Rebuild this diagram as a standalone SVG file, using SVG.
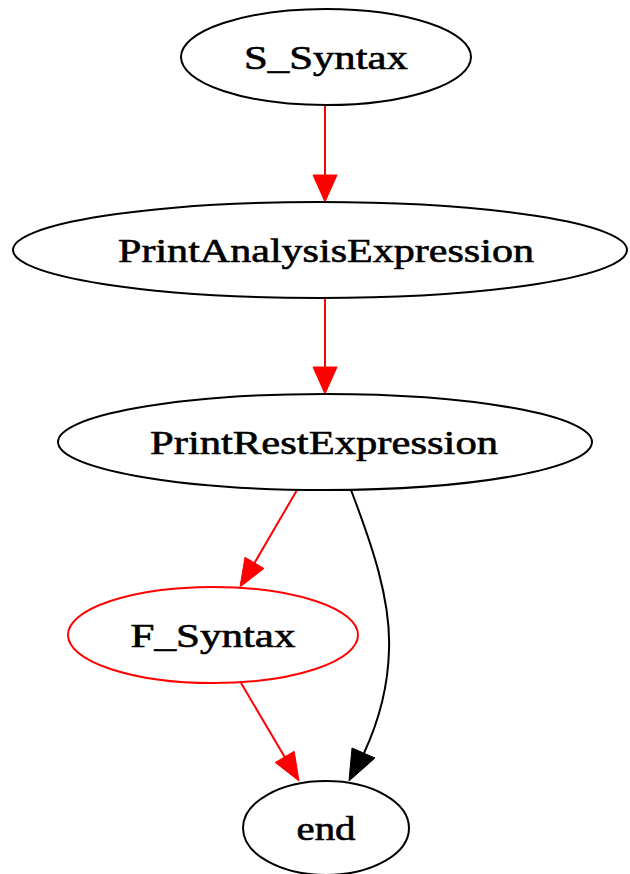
<svg xmlns="http://www.w3.org/2000/svg" width="630" height="874" viewBox="0 0 630 874">
  <style>
    .node ellipse { fill: #ffffff; stroke: #000000; stroke-width: 2; }
    .node.red ellipse { stroke: #ff0000; }
    .node text { font-family: "Liberation Serif", "Times New Roman", serif; font-size: 33px; fill: #000000; stroke: #000000; stroke-width: 0.6; text-anchor: middle; }
    .edge path { fill: none; stroke-width: 2; }
    .edge.red path { stroke: #ff0000; }
    .edge.red polygon { fill: #ff0000; stroke: #ff0000; }
    .edge.black path { stroke: #000000; }
    .edge.black polygon { fill: #000000; stroke: #000000; }
  </style>
  <rect x="0" y="0" width="630" height="874" fill="#ffffff"/>

  <g id="connectors">
    <g class="edge red" id="e_s_pae">
      <path d="M325,106 L325,175"/>
      <polygon points="313,175 337,175 325,202"/>
    </g>
    <g class="edge red" id="e_pae_pre">
      <path d="M325,298 L325,367"/>
      <polygon points="313,367 337,367 325,394"/>
    </g>
    <g class="edge red" id="e_pre_f">
      <path d="M297,490 L254.5,563"/>
      <polygon points="264,568.5 245,557.3 240,587"/>
    </g>
    <g class="edge red" id="e_f_end">
      <path d="M241,683 L284.7,757"/>
      <polygon points="294.2,751.3 275.2,762.5 299,781"/>
    </g>
    <g class="edge black" id="e_pre_end">
      <path d="M351,490 C372,545 391,600 389,650 C388,690 377,725 364,753"/>
      <polygon points="375,758 352,748 349,781"/>
    </g>
  </g>

  <g class="node" id="S_Syntax">
    <ellipse cx="326" cy="57" rx="145" ry="48"/>
    <text x="326" y="69" textLength="164" lengthAdjust="spacingAndGlyphs">S_Syntax</text>
  </g>
  <g class="node" id="PrintAnalysisExpression">
    <ellipse cx="320" cy="250" rx="307" ry="48"/>
    <text x="326" y="262" textLength="416" lengthAdjust="spacingAndGlyphs">PrintAnalysisExpression</text>
  </g>
  <g class="node" id="PrintRestExpression">
    <ellipse cx="325" cy="442" rx="267" ry="48"/>
    <text x="324" y="454" textLength="348" lengthAdjust="spacingAndGlyphs">PrintRestExpression</text>
  </g>
  <g class="node red" id="F_Syntax">
    <ellipse cx="213" cy="635" rx="145" ry="48"/>
    <text x="213" y="647" textLength="165" lengthAdjust="spacingAndGlyphs">F_Syntax</text>
  </g>
  <g class="node" id="end">
    <ellipse cx="326" cy="828" rx="83" ry="47"/>
    <text x="326" y="840" textLength="59" lengthAdjust="spacingAndGlyphs">end</text>
  </g>
</svg>
